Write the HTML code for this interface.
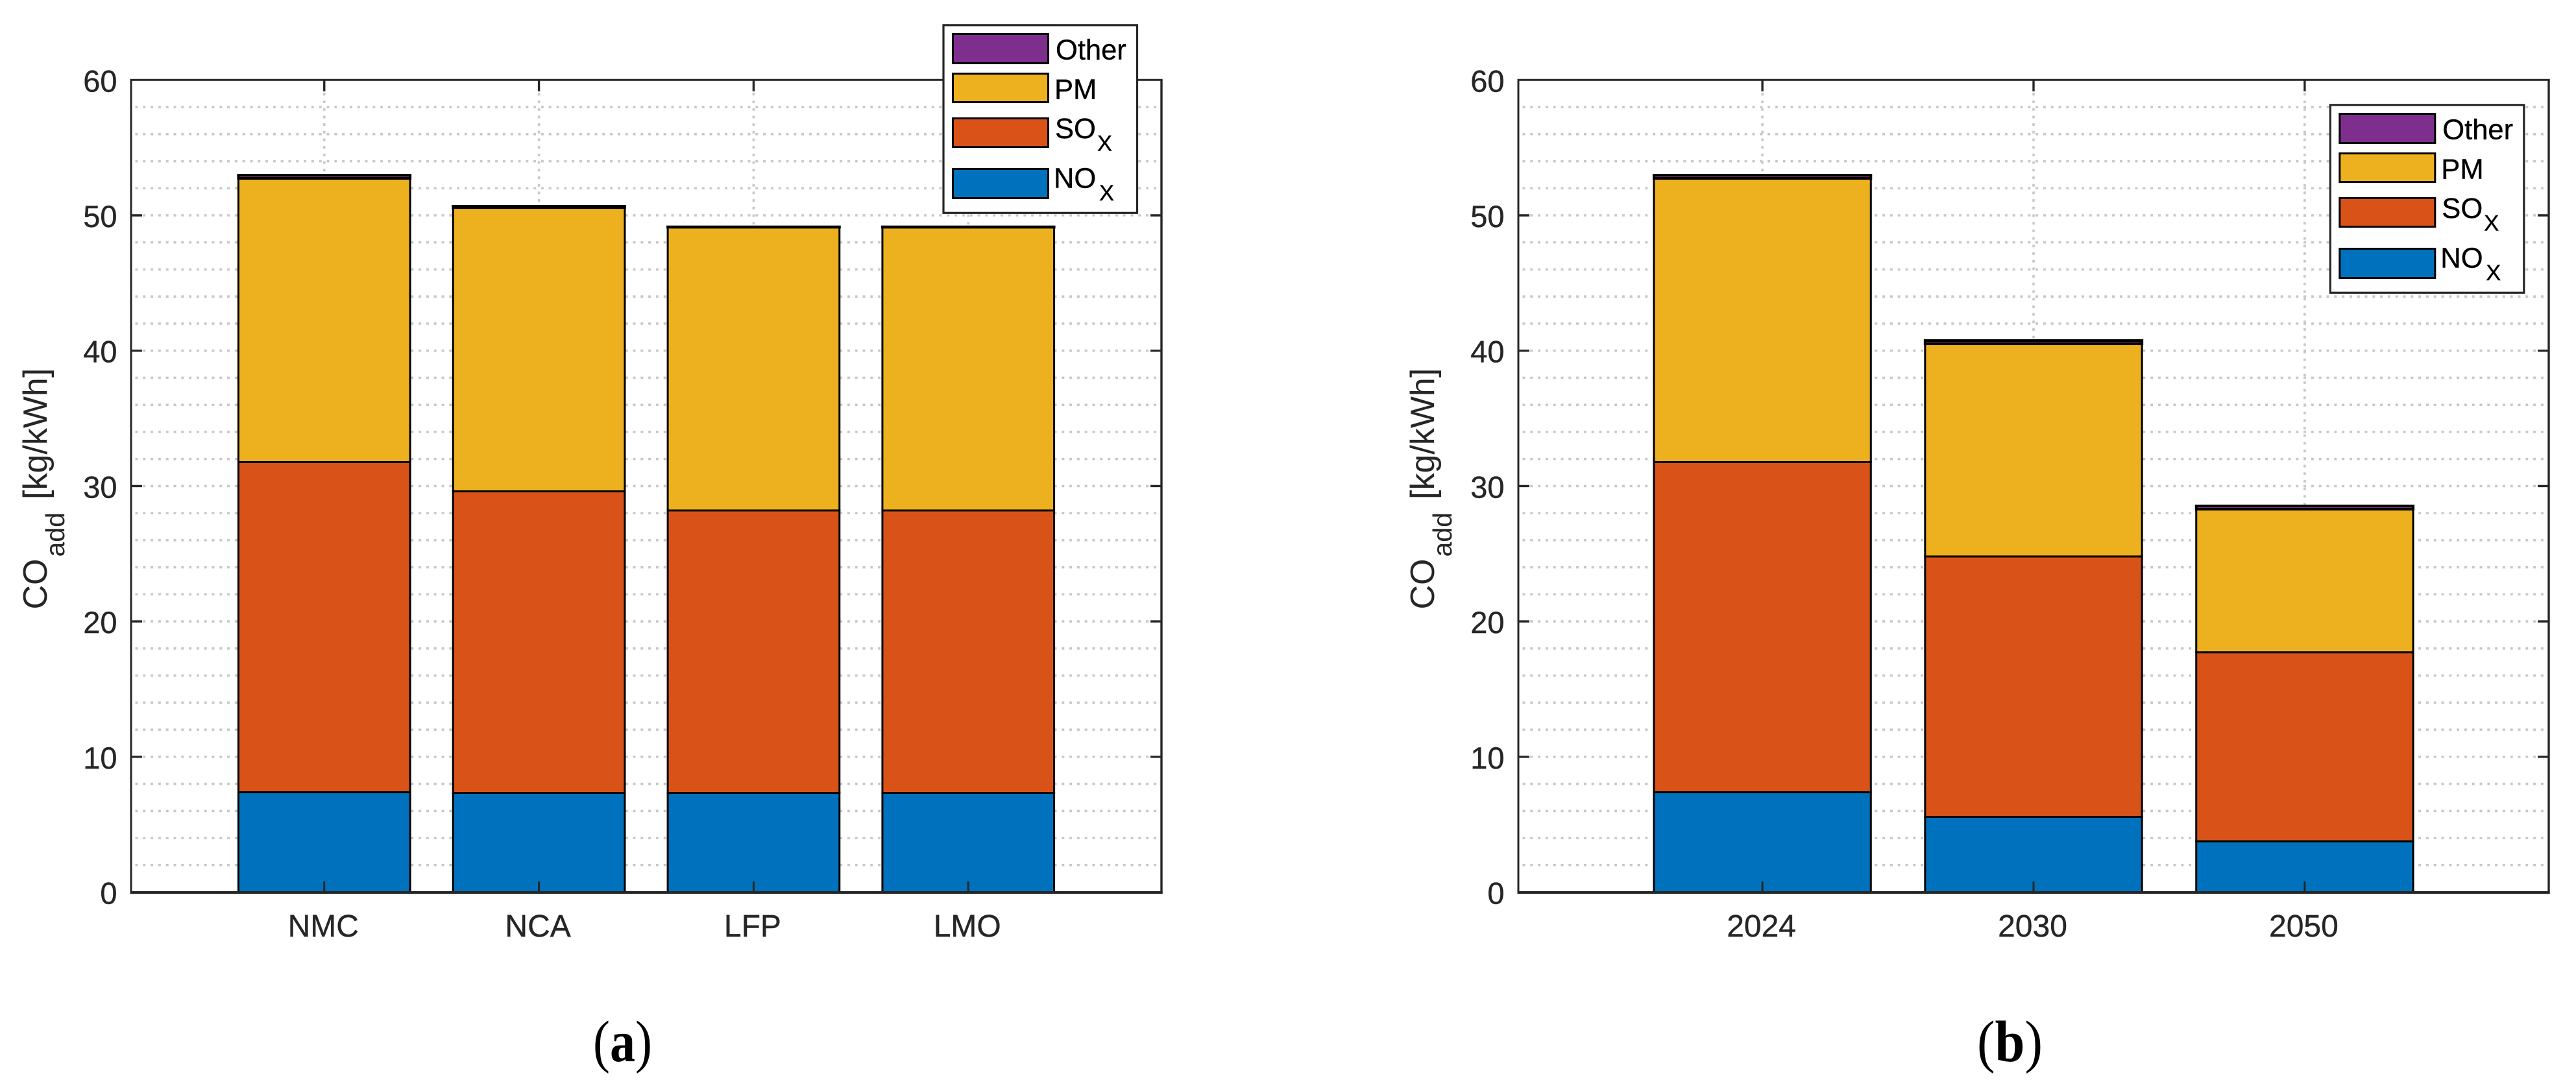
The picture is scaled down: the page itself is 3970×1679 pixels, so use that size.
<!DOCTYPE html>
<html lang="en">
<head>
<meta charset="utf-8">
<title>CO add stacked bar charts</title>
<style>
html,body{margin:0;padding:0;background:#fff;}
svg{display:block;}
text{font-family:"Liberation Sans",Arial,sans-serif;}
.cap{font-family:"Liberation Serif","Times New Roman",serif;font-size:90px;fill:#000;}
.yl{font-size:52px;fill:#262626;}
.ylsub{font-size:41px;fill:#262626;}
.lg{font-size:43.5px;fill:#000;stroke:#000;stroke-width:.4px;}
.lgsub{font-size:34.5px;fill:#000;stroke:#000;stroke-width:.4px;}
</style>
</head>
<body>
<svg xmlns="http://www.w3.org/2000/svg" width="3970" height="1679" viewBox="0 0 3970 1679">
  <rect x="0" y="0" width="3970" height="1679" fill="#fff"/>

  <g id="panel-a"></g>
  <g id="panel-b"></g>

  <g transform="translate(72,939.5) rotate(-90)">
    <text class="yl" x="0" y="0">CO</text>
    <text class="ylsub" x="81" y="27">add</text>
    <text class="yl" x="169.5" y="0">[kg/kWh]</text>
  </g>
  <g transform="translate(2210,939.5) rotate(-90)">
    <text class="yl" x="0" y="0">CO</text>
    <text class="ylsub" x="81" y="27">add</text>
    <text class="yl" x="169.5" y="0">[kg/kWh]</text>
  </g>

  <g>
    <rect x="1454" y="38.8" width="298.5" height="289.5" fill="#fff" stroke="#262626" stroke-width="3.2"/>
    <rect x="1468.5" y="52.5" width="147" height="45" fill="#7E2F8E" stroke="#000" stroke-width="3"/>
    <text class="lg" x="1627" y="91.5">Other</text>
    <rect x="1468.5" y="113.5" width="147" height="44" fill="#EDB120" stroke="#000" stroke-width="3"/>
    <text class="lg" x="1625" y="152.3">PM</text>
    <rect x="1468.5" y="182.5" width="147" height="44" fill="#D95319" stroke="#000" stroke-width="3"/>
    <text class="lg" x="1626" y="213">SO</text>
    <text class="lgsub" x="1691" y="232.7">X</text>
    <rect x="1468.5" y="260.5" width="147" height="45" fill="#0072BD" stroke="#000" stroke-width="3"/>
    <text class="lg" x="1624" y="289.3">NO</text>
    <text class="lgsub" x="1694" y="309">X</text>
  </g>

  <g transform="translate(2137.3,123)">
    <rect x="1454" y="38.8" width="298.5" height="289.5" fill="#fff" stroke="#262626" stroke-width="3.2"/>
    <rect x="1468.5" y="52.5" width="147" height="45" fill="#7E2F8E" stroke="#000" stroke-width="3"/>
    <text class="lg" x="1627" y="91.5">Other</text>
    <rect x="1468.5" y="113.5" width="147" height="44" fill="#EDB120" stroke="#000" stroke-width="3"/>
    <text class="lg" x="1625" y="152.3">PM</text>
    <rect x="1468.5" y="182.5" width="147" height="44" fill="#D95319" stroke="#000" stroke-width="3"/>
    <text class="lg" x="1626" y="213">SO</text>
    <text class="lgsub" x="1691" y="232.7">X</text>
    <rect x="1468.5" y="260.5" width="147" height="45" fill="#0072BD" stroke="#000" stroke-width="3"/>
    <text class="lg" x="1624" y="289.3">NO</text>
    <text class="lgsub" x="1694" y="309">X</text>
  </g>

  <text class="cap" x="914" y="1636" textLength="91" lengthAdjust="spacingAndGlyphs">(<tspan font-weight="bold">a</tspan>)</text>
  <text class="cap" x="3047" y="1636" textLength="101" lengthAdjust="spacingAndGlyphs">(<tspan font-weight="bold">b</tspan>)</text>
</svg>

<script>
// Panel (a): battery chemistries
const categoriesA = ["NMC", "NCA", "LFP", "LMO"];
const noxA = [7.38, 7.33, 7.33, 7.33];
const soxA = [24.39, 22.28, 20.87, 20.87];
const pmA = [20.96, 20.96, 20.92, 20.92];
const otherA = [0.24, 0.10, 0.03, 0.03];

// Panel (b): years
const categoriesB = ["2024", "2030", "2050"];
const noxB = [7.38, 5.56, 3.76];
const soxB = [24.39, 19.24, 13.96];
const pmB = [20.96, 15.71, 10.57];
const otherB = [0.24, 0.24, 0.24];

// Shared y axis
const yTickLabels = [0, 10, 20, 30, 40, 50, 60];
const yGridValues = [2, 4, 6, 8, 10, 12, 14, 16, 18, 20, 22, 24, 26, 28, 30, 32, 34, 36, 38, 40, 42, 44, 46, 48, 50, 52, 54, 56, 58];
const yMaxValue = 60;

const SVGNS = "http://www.w3.org/2000/svg";
const PLOT_BOTTOM = 1375.5;
const PLOT_TOP = 123.3;
const AXIS_COLOR = "#262626";
const GRID_COLOR = "#c8c8c8";

function yScale(v) {
  return PLOT_BOTTOM - v * (PLOT_BOTTOM - PLOT_TOP) / yMaxValue;
}

function make(tag, parent, attrs) {
  const el = document.createElementNS(SVGNS, tag);
  for (const k in attrs) el.setAttribute(k, attrs[k]);
  parent.appendChild(el);
  return el;
}

function drawPanel(root, prefix, left, right, categories, series) {
  const xMinValue = 0.1;
  const xMaxValue = categories.length + 0.9;
  const xScale = function (v) {
    return left + (v - xMinValue) * (right - left) / (xMaxValue - xMinValue);
  };
  const barWidth = 0.8 * (xScale(2) - xScale(1));

  // grid
  yGridValues.forEach(function (v) {
    const g = make("line", root, {x1: left + 6.5, x2: right - 1.5, y1: yScale(v), y2: yScale(v), stroke: GRID_COLOR, "stroke-width": 3.6, "stroke-dasharray": "4 7.8"});
    
    
  });
  categories.forEach(function (c, i) {
    const x = xScale(i + 1);
    const g = make("line", root, {x1: x, x2: x, y1: PLOT_TOP + 20, y2: PLOT_BOTTOM - 2, stroke: GRID_COLOR, "stroke-width": 3.6, "stroke-dasharray": "4 7.7"});
    
    
  });

  // stacked bars
  categories.forEach(function (c, i) {
    let base = 0;
    series.forEach(function (s) {
      const v = s.values[i];
      const yTop = yScale(base + v);
      const yBase = yScale(base);
      const r = make("rect", root, {x: xScale(i + 1) - barWidth / 2, y: yTop, width: barWidth, height: yBase - yTop, fill: s.color, stroke: "#000", "stroke-width": s.edge});
      
      
      base += v;
    });
  });

  // axis box
  const topAxis = make("line", root, {x1: left - 1.5, x2: right + 1.7, y1: PLOT_TOP, y2: PLOT_TOP, stroke: AXIS_COLOR, "stroke-width": 3});
  
  
  const bottomAxis = make("line", root, {x1: left - 1.5, x2: right + 1.7, y1: PLOT_BOTTOM + 0.5, y2: PLOT_BOTTOM + 0.5, stroke: AXIS_COLOR, "stroke-width": 4});
  
  
  const leftAxis = make("line", root, {x1: left, x2: left, y1: PLOT_TOP, y2: PLOT_BOTTOM + 2, stroke: AXIS_COLOR, "stroke-width": 3});
  
  
  const rightAxis = make("line", root, {x1: right, x2: right, y1: PLOT_TOP, y2: PLOT_BOTTOM + 2, stroke: AXIS_COLOR, "stroke-width": 3.4});
  
  

  // y ticks and labels
  yTickLabels.forEach(function (v) {
    const y = yScale(v);
    if (v > 0 && v < yMaxValue) {
      const t1 = make("line", root, {x1: left, x2: left + 17, y1: y, y2: y, stroke: AXIS_COLOR, "stroke-width": 3.4});
      
      
      const t2 = make("line", root, {x1: right - 17, x2: right, y1: y, y2: y, stroke: AXIS_COLOR, "stroke-width": 3.4});
      
      
    }
    const lab = make("text", root, {x: left - 21.5, y: y + 18, "text-anchor": "end", "font-size": 47, fill: AXIS_COLOR, stroke: AXIS_COLOR, "stroke-width": 0.4});
    lab.textContent = String(v);
    
    
  });

  // x ticks and labels
  categories.forEach(function (c, i) {
    const x = xScale(i + 1);
    const t1 = make("line", root, {x1: x, x2: x, y1: PLOT_BOTTOM - 16.5, y2: PLOT_BOTTOM, stroke: AXIS_COLOR, "stroke-width": 3});
    
    
    const t2 = make("line", root, {x1: x, x2: x, y1: PLOT_TOP, y2: PLOT_TOP + 17.5, stroke: AXIS_COLOR, "stroke-width": 3.4});
    
    
    const lab = make("text", root, {x: x - 1.5, y: 1444, "text-anchor": "middle", "font-size": 48, fill: AXIS_COLOR, stroke: AXIS_COLOR, "stroke-width": 0.4});
    lab.textContent = c;
    
    
  });
}

drawPanel(document.getElementById("panel-a"), "panel-a", 202, 1790, categoriesA, [
  {name: "nox", values: noxA, color: "#0072BD", edge: 3},
  {name: "sox", values: soxA, color: "#D95319", edge: 3},
  {name: "pm", values: pmA, color: "#EDB120", edge: 3},
  {name: "other", values: otherA, color: "#7E2F8E", edge: 4}
]);

drawPanel(document.getElementById("panel-b"), "panel-b", 2340, 3928, categoriesB, [
  {name: "nox", values: noxB, color: "#0072BD", edge: 3},
  {name: "sox", values: soxB, color: "#D95319", edge: 3},
  {name: "pm", values: pmB, color: "#EDB120", edge: 3},
  {name: "other", values: otherB, color: "#7E2F8E", edge: 4}
]);
</script>
</body>
</html>
